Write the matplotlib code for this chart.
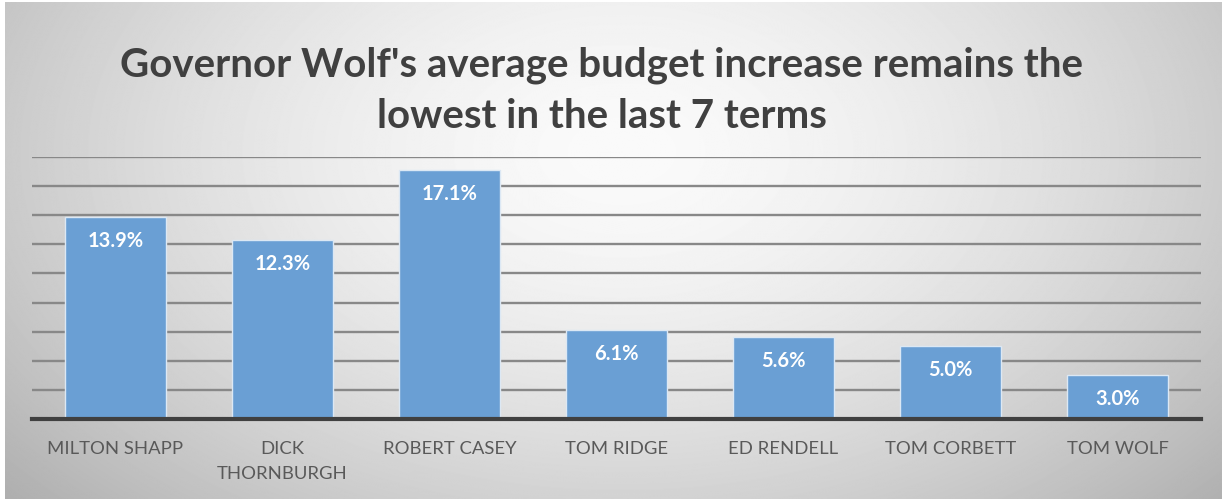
import numpy as np
import matplotlib
matplotlib.use("Agg")
import matplotlib.pyplot as plt

governors = ["MILTON SHAPP", "DICK\nTHORNBURGH", "ROBERT CASEY", "TOM RIDGE",
             "ED RENDELL", "TOM CORBETT", "TOM WOLF"]
avg_increase = [13.9, 12.3, 17.1, 6.1, 5.6, 5.0, 3.0]
value_labels = ["13.9%", "12.3%", "17.1%", "6.1%", "5.6%", "5.0%", "3.0%"]
title_text = "Governor Wolf's average budget increase remains the\nlowest in the last 7 terms"

W, H, DPI = 1224, 499, 100
plt.rcParams["font.family"] = ["Lato", "DejaVu Sans"]

fig = plt.figure(figsize=(W / DPI, H / DPI), dpi=DPI)
fig.patch.set_facecolor("white")

# radial grey gradient panel behind the chart
bg = fig.add_axes([5 / W, 0, (W - 7) / W, (H - 2) / H], zorder=0)
yy, xx = np.mgrid[0:H, 0:W].astype(float)
cx, cy, rx, ry = 620.0, 150.0, 760.0, 480.0
d = np.sqrt(((xx - cx) / rx) ** 2 + ((yy - cy) / ry) ** 2)
shade = 250 - 66 * np.clip(d, 0, 1.15) ** 1.6
img = np.clip(shade, 0, 255) / 255.0
bg.imshow(img, cmap="gray", vmin=0, vmax=1, aspect="auto",
          extent=[0, W, H, 0], interpolation="bilinear")
bg.set_axis_off()

# main bar chart
ax_left, ax_right = 32 / W, 1201 / W
ax_bottom, ax_top = (H - 419) / H, (H - 157) / H
ax = fig.add_axes([ax_left, ax_bottom, ax_right - ax_left, ax_top - ax_bottom], zorder=1)
ax.patch.set_alpha(0)

x = np.arange(len(governors))
bars = ax.bar(x, avg_increase, width=0.6, color="#6A9FD4",
              edgecolor="#DCE8F4", linewidth=1.0, zorder=3)
ax.set_xlim(-0.5, len(governors) - 0.5)
ax.set_ylim(0, 18)
ax.set_yticks(np.arange(0, 19, 2))
ax.yaxis.grid(True, color="#888888", linewidth=1.7, zorder=0)
ax.set_axisbelow(True)
ax.tick_params(axis="y", left=False, labelleft=False)
ax.tick_params(axis="x", bottom=False, pad=12)
for s in ("top", "right", "left"):
    ax.spines[s].set_visible(False)
ax.spines["bottom"].set_color("#404040")
ax.spines["bottom"].set_linewidth(3)
ax.spines["bottom"].set_zorder(5)

ax.set_xticks(x)
ax.set_xticklabels(governors, fontsize=13.3, color="#595959", linespacing=1.7)

for b, lab in zip(bars, value_labels):
    ax.annotate(lab, (b.get_x() + b.get_width() / 2, b.get_height()),
                xytext=(0, -24), textcoords="offset pixels",
                ha="center", va="center", color="white",
                fontsize=14.5, fontweight="bold", zorder=6)

fig.text(602 / W, (H - 91) / H, title_text, ha="center", va="center",
         fontsize=29, fontweight="bold", color="#404040", linespacing=1.45)

fig.savefig("out.png", dpi=DPI, facecolor=fig.get_facecolor())
